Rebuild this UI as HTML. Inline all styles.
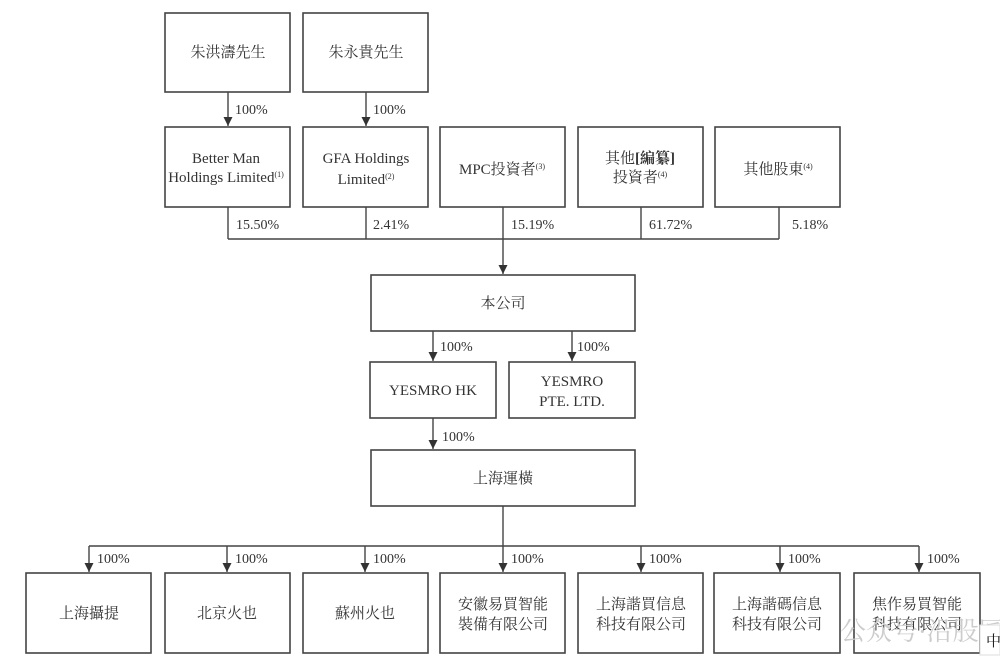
<!DOCTYPE html>
<html><head><meta charset="utf-8"><style>
html,body{margin:0;padding:0;background:#fff;}
svg{display:block;}
text{font-family:"Liberation Serif","Noto Serif CJK SC","Noto Sans CJK TC",serif;fill:#333;}
.b{fill:#fff;stroke:#444;stroke-width:1.6;}
.l{stroke:#444;stroke-width:1.4;fill:none;}
.t{font-size:15px;text-anchor:middle;}
.p{font-size:14px;}
</style></head><body>
<svg width="1000" height="667" viewBox="0 0 1000 667">
<defs><marker id="a" markerWidth="9" markerHeight="9" refX="9" refY="4.5" orient="auto" markerUnits="userSpaceOnUse"><path d="M0,0 L9,4.5 L0,9 z" fill="#333"/></marker></defs>
<rect class="b" x="165" y="13" width="125" height="79"/>
<rect class="b" x="303" y="13" width="125" height="79"/>
<text class="t" x="228" y="57">朱洪濤先生</text>
<text class="t" x="366" y="57">朱永貴先生</text>
<line class="l" x1="228" y1="92" x2="228" y2="126" marker-end="url(#a)"/>
<line class="l" x1="366" y1="92" x2="366" y2="126" marker-end="url(#a)"/>
<text class="p" x="235" y="114">100%</text>
<text class="p" x="373" y="114">100%</text>
<rect class="b" x="165" y="127" width="125" height="80"/>
<rect class="b" x="303" y="127" width="125" height="80"/>
<rect class="b" x="440" y="127" width="125" height="80"/>
<rect class="b" x="578" y="127" width="125" height="80"/>
<rect class="b" x="715" y="127" width="125" height="80"/>
<text class="t" x="226" y="163">Better Man</text>
<text class="t" x="226" y="182">Holdings Limited<tspan font-size="8" dy="-5">(1)</tspan></text>
<text class="t" x="366" y="163">GFA Holdings</text>
<text class="t" x="366" y="184">Limited<tspan font-size="8" dy="-5">(2)</tspan></text>
<text class="t" x="502" y="174">MPC投資者<tspan font-size="8" dy="-5">(3)</tspan></text>
<text class="t" x="640" y="163">其他<tspan font-weight="bold">[編纂]</tspan></text>
<text class="t" x="640" y="182">投資者<tspan font-size="8" dy="-5">(4)</tspan></text>
<text class="t" x="778" y="174">其他股東<tspan font-size="8" dy="-5">(4)</tspan></text>
<path class="l" d="M228,207V239M366,207V239M503,207V239M641,207V239M779,207V239M228,239H779"/>
<text class="p" x="236" y="229">15.50%</text>
<text class="p" x="373" y="229">2.41%</text>
<text class="p" x="511" y="229">15.19%</text>
<text class="p" x="649" y="229">61.72%</text>
<text class="p" x="792" y="229">5.18%</text>
<line class="l" x1="503" y1="239" x2="503" y2="274" marker-end="url(#a)"/>
<rect class="b" x="371" y="275" width="264" height="56"/>
<text class="t" x="503" y="308">本公司</text>
<line class="l" x1="433" y1="331" x2="433" y2="361" marker-end="url(#a)"/>
<line class="l" x1="572" y1="331" x2="572" y2="361" marker-end="url(#a)"/>
<text class="p" x="440" y="351">100%</text>
<text class="p" x="577" y="351">100%</text>
<rect class="b" x="370" y="362" width="126" height="56"/>
<rect class="b" x="509" y="362" width="126" height="56"/>
<text class="t" x="433" y="395">YESMRO HK</text>
<text class="t" x="572" y="386">YESMRO</text>
<text class="t" x="572" y="406">PTE. LTD.</text>
<line class="l" x1="433" y1="418" x2="433" y2="449" marker-end="url(#a)"/>
<text class="p" x="442" y="441">100%</text>
<rect class="b" x="371" y="450" width="264" height="56"/>
<text class="t" x="503" y="483">上海運橫</text>
<path class="l" d="M503,506V546M89,546H919"/>
<g>
<line class="l" x1="89" y1="546" x2="89" y2="572" marker-end="url(#a)"/>
<line class="l" x1="227" y1="546" x2="227" y2="572" marker-end="url(#a)"/>
<line class="l" x1="365" y1="546" x2="365" y2="572" marker-end="url(#a)"/>
<line class="l" x1="503" y1="546" x2="503" y2="572" marker-end="url(#a)"/>
<line class="l" x1="641" y1="546" x2="641" y2="572" marker-end="url(#a)"/>
<line class="l" x1="780" y1="546" x2="780" y2="572" marker-end="url(#a)"/>
<line class="l" x1="919" y1="546" x2="919" y2="572" marker-end="url(#a)"/>
</g>
<text class="p" x="97" y="563">100%</text>
<text class="p" x="235" y="563">100%</text>
<text class="p" x="373" y="563">100%</text>
<text class="p" x="511" y="563">100%</text>
<text class="p" x="649" y="563">100%</text>
<text class="p" x="788" y="563">100%</text>
<text class="p" x="927" y="563">100%</text>
<rect class="b" x="26" y="573" width="125" height="80"/>
<rect class="b" x="165" y="573" width="125" height="80"/>
<rect class="b" x="303" y="573" width="125" height="80"/>
<rect class="b" x="440" y="573" width="125" height="80"/>
<rect class="b" x="578" y="573" width="125" height="80"/>
<rect class="b" x="714" y="573" width="126" height="80"/>
<rect class="b" x="854" y="573" width="126" height="80"/>
<text class="t" x="89" y="618">上海攝提</text>
<text class="t" x="227" y="618">北京火也</text>
<text class="t" x="365" y="618">蘇州火也</text>
<text class="t" x="503" y="609">安徽易買智能</text>
<text class="t" x="503" y="629">裝備有限公司</text>
<text class="t" x="641" y="609">上海諧買信息</text>
<text class="t" x="641" y="629">科技有限公司</text>
<text class="t" x="777" y="609">上海諧碼信息</text>
<text class="t" x="777" y="629">科技有限公司</text>
<text class="t" x="917" y="609">焦作易買智能</text>
<text class="t" x="917" y="629">科技有限公司</text>
<text x="840" y="640" font-size="26" fill="#ccc" style="fill:#ccc" font-family="Noto Sans CJK SC,sans-serif">公众号·沿股匠</text>
<rect x="980" y="625" width="20" height="30" fill="#fff" stroke="#ddd"/>
<text x="986" y="646" font-size="15" style="fill:#111" font-family="Noto Sans CJK SC,sans-serif">中</text>
</svg>
</body></html>
